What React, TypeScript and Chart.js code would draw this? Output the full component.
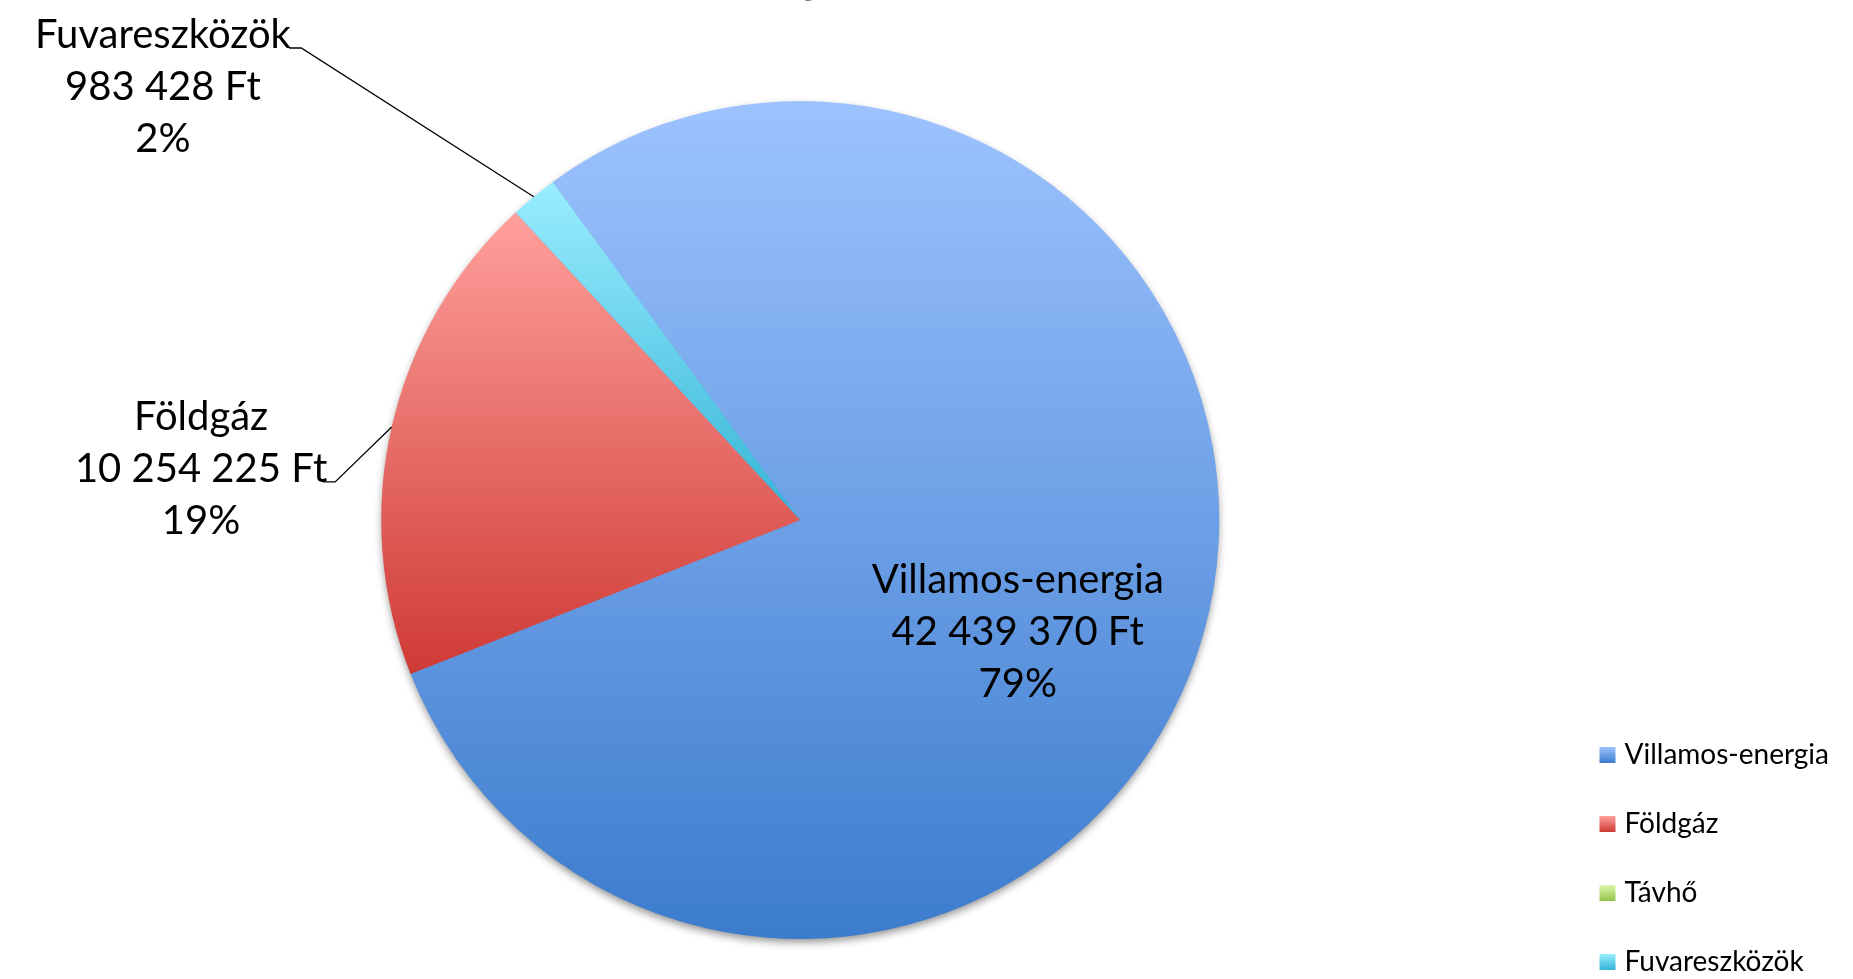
import React, { useEffect, useRef } from "react";
import { Chart, registerables } from "chart.js";

Chart.register(...registerables);

// ---- data ----
const categories = ["Villamos-energia", "Földgáz", "Távhő", "Fuvareszközök"];
const costsFt = [42439370, 10254225, 0, 983428];
const titleText = "Energiahordozók (Ft/év)";

// ---- style ----
const sliceGradients: [string, string][] = [
  ["#9dc3ff", "#3c7ccd"],
  ["#ffa09c", "#cf3a35"],
  ["#dbf8ab", "#97c24a"],
  ["#9aedff", "#34b4d6"],
];
const PIE_RADIUS = 419;
const ROTATION = -36.2;
const FONT = "Lato, 'Open Sans', sans-serif";
const LABEL_SIZE = 40;
const LINE_GAP = 52;
const SWATCH_SHIFT = 5;
// label placement relative to pie centre, in units of radius
const labelLayout: ({ dx: number; dy: number; leader?: { ex: number; ey: number; tick: number } } | null)[] = [
  { dx: 0.519, dy: 0.298 },
  { dx: -1.43, dy: -0.091, leader: { ex: -1.11, ey: -0.091, tick: 12 } },
  null,
  { dx: -1.521, dy: -1.002, leader: { ex: -1.191, ey: -1.1265, tick: 12 } },
];

const fmtFt = (v: number) =>
  String(Math.round(v)).replace(/\B(?=(\d{3})+(?!\d))/g, " ") + " Ft";

function sliceGradient(c: any) {
  const chart = c.chart;
  const area = chart.chartArea;
  const i = c.dataIndex;
  if (i === undefined) return sliceGradients[0][1];
  const [c0, c1] = sliceGradients[i];
  if (!area) return c1;
  const cy = (area.top + area.bottom) / 2;
  const data = chart.data.datasets[0].data as number[];
  const total = data.reduce((a, b) => a + b, 0);
  let prev = 0;
  for (let k = 0; k < i; k++) prev += data[k];
  const a0 = ROTATION + (360 * prev) / total;
  const a1 = a0 + (360 * data[i]) / total;
  const yOf = (deg: number) => cy - PIE_RADIUS * Math.cos((deg * Math.PI) / 180);
  const ys = [cy, yOf(a0), yOf(a1)];
  for (const k of [-180, 0, 180, 360, 540]) if (k >= a0 && k <= a1) ys.push(yOf(k));
  const y0 = Math.min(...ys);
  let y1 = Math.max(...ys);
  if (y1 - y0 < 1) y1 = y0 + 1;
  const g = chart.ctx.createLinearGradient(0, y0, 0, y1);
  g.addColorStop(0, c0);
  g.addColorStop(1, c1);
  return g;
}

const shadowPlugin = {
  id: "pieShadow",
  beforeDatasetsDraw(chart: any) {
    const arc = chart.getDatasetMeta(0).data[0];
    if (!arc) return;
    const { x, y, outerRadius } = arc.getProps(["x", "y", "outerRadius"], true);
    const ctx = chart.ctx;
    ctx.save();
    ctx.shadowColor = "rgba(0,0,0,0.45)";
    ctx.shadowBlur = 8;
    ctx.shadowOffsetY = 4;
    ctx.fillStyle = "#6a8fd0";
    ctx.beginPath();
    ctx.arc(x, y, outerRadius - 1, 0, Math.PI * 2);
    ctx.fill();
    ctx.restore();
  },
};

const labelPlugin = {
  id: "sliceLabels",
  afterDatasetsDraw(chart: any) {
    const meta = chart.getDatasetMeta(0);
    const data = chart.data.datasets[0].data as number[];
    const total = data.reduce((a, b) => a + b, 0);
    const ctx = chart.ctx;
    ctx.save();
    ctx.font = `${LABEL_SIZE}px ${FONT}`;
    ctx.fillStyle = "#000";
    ctx.textAlign = "center";
    ctx.textBaseline = "alphabetic";
    meta.data.forEach((arc: any, i: number) => {
      const lay = labelLayout[i];
      if (!lay || !data[i]) return;
      const { x, y, outerRadius: R, startAngle, endAngle } = arc.getProps(
        ["x", "y", "outerRadius", "startAngle", "endAngle"],
        true
      );
      const lx = x + lay.dx * R;
      const ly = y + lay.dy * R;
      const lines = [
        chart.data.labels[i],
        fmtFt(data[i]),
        Math.round((100 * data[i]) / total) + "%",
      ];
      lines.forEach((t: string, k: number) => ctx.fillText(t, lx, ly + (k - 1) * LINE_GAP));
      if (lay.leader) {
        const mid = (startAngle + endAngle) / 2;
        const px = x + Math.cos(mid) * R;
        const py = y + Math.sin(mid) * R;
        const ex = x + lay.leader.ex * R;
        const ey = y + lay.leader.ey * R;
        ctx.beginPath();
        ctx.strokeStyle = "#000";
        ctx.lineWidth = 1.3;
        ctx.moveTo(px, py);
        ctx.lineTo(ex, ey);
        ctx.lineTo(ex - lay.leader.tick, ey);
        ctx.stroke();
      }
    });
    ctx.restore();
  },
};

const legendSwatchPlugin = {
  id: "legendSwatches",
  afterDraw(chart: any) {
    const legend = chart.legend;
    if (!legend || !legend.legendHitBoxes) return;
    const opts = legend.options.labels;
    const bw = opts.boxWidth;
    const bh = opts.boxHeight;
    const fs = opts.font.size;
    const ctx = chart.ctx;
    ctx.save();
    legend.legendHitBoxes.forEach((hb: any, i: number) => {
      const top = hb.top + Math.max((fs - bh) / 2, 0);
      const left = hb.left + SWATCH_SHIFT;
      const g = ctx.createLinearGradient(0, top, 0, top + bh);
      g.addColorStop(0, sliceGradients[i][0]);
      g.addColorStop(1, sliceGradients[i][1]);
      ctx.fillStyle = g;
      ctx.fillRect(left, top, bw, bh);
    });
    ctx.restore();
  },
};

export default function App() {
  const canvasRef = useRef<HTMLCanvasElement | null>(null);

  useEffect(() => {
    if (!canvasRef.current) return;
    const chart = new Chart(canvasRef.current, {
      type: "pie",
      data: {
        labels: categories,
        datasets: [
          {
            data: costsFt,
            backgroundColor: sliceGradient as any,
            borderWidth: 0,
            radius: PIE_RADIUS,
          } as any,
        ],
      },
      options: {
        animation: false,
        responsive: true,
        maintainAspectRatio: false,
        rotation: ROTATION,
        layout: { padding: { left: 47, right: 14, top: 0, bottom: 0 } },
        events: [],
        plugins: {
          tooltip: { enabled: false },
          title: {
            display: true,
            text: titleText,
            color: "#000",
            font: { family: FONT, size: 44, weight: "bold" },
            padding: { top: 12.6, bottom: 17.6 },
          },
          legend: {
            position: "right",
            align: "end",
            labels: {
              color: "#000",
              font: { family: FONT, size: 28 },
              boxWidth: 16,
              boxHeight: 16,
              padding: 41,
              generateLabels: (ch: any) =>
                (ch.data.labels as string[]).map((text, i) => ({
                  text,
                  fillStyle: "rgba(0,0,0,0)",
                  strokeStyle: "rgba(0,0,0,0)",
                  lineWidth: 0,
                  hidden: false,
                  index: i,
                  fontColor: "#000",
                })),
            },
          },
        },
      },
      plugins: [shadowPlugin, labelPlugin, legendSwatchPlugin],
    });
    return () => chart.destroy();
  }, []);

  return (
    <div
      style={{
        position: "fixed",
        left: 0,
        top: 0,
        width: 1853,
        height: 979,
        overflow: "hidden",
        background: "#fff",
      }}
    >
      <div style={{ position: "absolute", left: 0, top: -60, width: 1853, height: 1077 }}>
        <canvas ref={canvasRef} />
      </div>
    </div>
  );
}
